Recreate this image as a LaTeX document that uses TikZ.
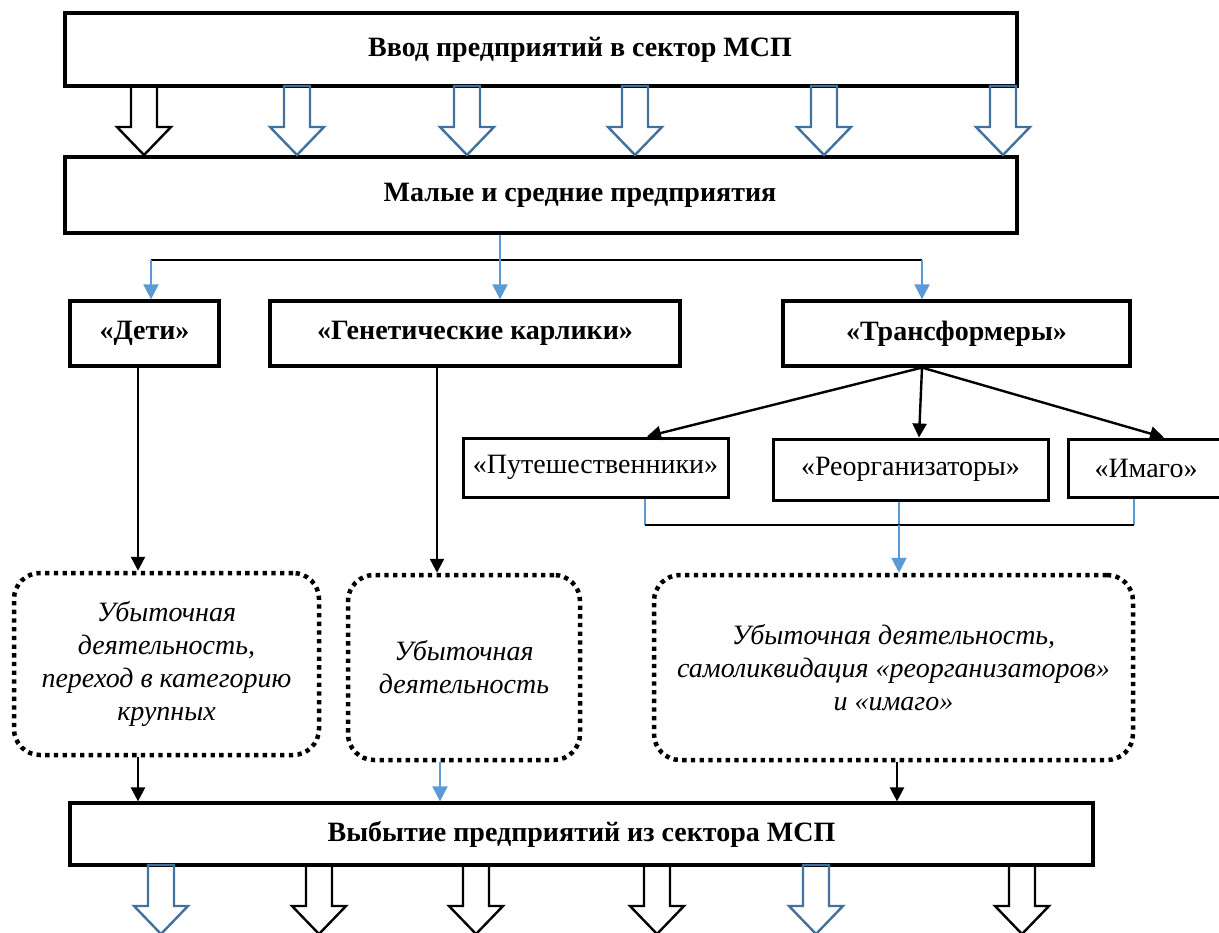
\documentclass[tikz,border=0pt]{standalone}
\usepackage{fontspec}
\setmainfont{Liberation Serif}
\usepackage{xcolor}
\usetikzlibrary{arrows.meta}
\definecolor{ink}{HTML}{000000}
\definecolor{flow}{HTML}{41719C}
\definecolor{link}{HTML}{5B9BD5}
\newcommand{\hollowarrow}[3]{%
  \draw[#3,line width=2.4pt] (#1-13,#2) -- (#1+13,#2) -- (#1+13,#2+41) -- (#1+27,#2+41)
    -- (#1,#2+69) -- (#1-27,#2+41) -- (#1-13,#2+41) -- cycle;}

\begin{document}
\begin{tikzpicture}[x=1pt,y=-1pt,>={Triangle[length=14pt,width=14pt]},
  stage/.style={draw,line width=3.2pt,inner sep=0pt,font=\fontsize{28}{33}\selectfont\bfseries},
  kind/.style={draw,line width=3pt,inner sep=0pt,font=\fontsize{28}{33}\selectfont},
  loss/.style={draw,line width=4.5pt,dash pattern=on 4.3pt off 4.4pt,rounded corners=26pt,
    align=center,inner sep=0pt,font=\fontsize{28}{33}\selectfont\itshape},
  tie/.style={draw=ink,line width=2.4pt},
  cue/.style={draw=link,line width=2pt,-{Triangle[length=15pt,width=15pt]},shorten >=0pt}]
  \useasboundingbox (0,0) rectangle (1219,933);
  \node[stage,minimum width=952pt,minimum height=73pt] (entry) at (541,49.5) {\hspace*{78pt}Ввод предприятий в сектор МСП};
  \node[stage,minimum width=952pt,minimum height=76pt] (smes) at (541,195) {\hspace*{78pt}Малые и средние предприятия};
  \node[stage,minimum width=149pt,minimum height=65pt] (kids) at (144.5,333.5) {«Дети»};
  \node[stage,minimum width=410pt,minimum height=65pt] (dwarfs) at (475,333.5) {«Генетические карлики»};
  \node[stage,minimum width=347pt,minimum height=65pt] (trans) at (956.5,333.5) {«Трансформеры»};
  \node[kind,minimum width=265pt,minimum height=59pt] (trav) at (595.5,467.5) {«Путешественники»};
  \node[kind,minimum width=275pt,minimum height=61pt] (reorg) at (910.5,469.5) {«Реорганизаторы»};
  \node[kind,minimum width=156pt,minimum height=58pt] (imago) at (1146,468) {«Имаго»};
  \node[loss,minimum width=305pt,minimum height=182pt] (loss1) at (166.5,664) {Убыточная\\деятельность,\\переход в категорию\\крупных};
  \node[loss,minimum width=232pt,minimum height=185pt] (loss2) at (464,667.5) {Убыточная\\деятельность};
  \node[loss,minimum width=479pt,minimum height=185pt] (loss3) at (893.5,667.5) {Убыточная деятельность,\\самоликвидация «реорганизаторов»\\и «имаго»};
  \node[stage,minimum width=1023pt,minimum height=62pt] (exit) at (581.5,834) {Выбытие предприятий из сектора МСП};
  \foreach \x/\c in {144/ink,297/flow,467/flow,635/flow,824/flow,1003/flow} {\hollowarrow{\x}{86}{\c}}
  \foreach \x/\c in {161/flow,319/ink,476/ink,657/ink,816/flow,1022/ink} {\hollowarrow{\x}{865}{\c}}
  % split of the small and medium firms
  \coordinate (fork) at (500,260);
  \coordinate (kcol) at (151,260);
  \coordinate (tcol) at (922,260);
  \draw[tie,line width=2pt] (kcol) -- (tcol);
  \draw[cue] (smes.south -| fork) -- (dwarfs.north -| fork);
  \draw[cue] (kcol) -- (kids.north -| kcol);
  \draw[cue] (tcol) -- (trans.north -| tcol);
  \coordinate (tsplit) at (trans.south -| tcol);
  \draw[tie,->] (tsplit) -- (trav.north -| 647,0);
  \draw[tie,->] (tsplit) -- (reorg.north -| 919,0);
  \draw[tie,->] (tsplit) -- (imago.north -| 1164,0);
  \coordinate (jl) at (645,525);
  \coordinate (join) at (899,525);
  \coordinate (jr) at (1134,525);
  \draw[cue,-] (trav.south -| jl) -- (jl);
  \draw[cue,-] (reorg.south -| join) -- (join);
  \draw[cue,-] (imago.south -| jr) -- (jr);
  \draw[tie,line width=2pt] (jl) -- (jr);
  \draw[cue] (join) -- (loss3.north -| join);
  % ways out of the sector
  \draw[tie,->] (kids.south -| 138,0) -- (loss1.north -| 138,0);
  \draw[tie,->] (dwarfs.south -| 437,0) -- (loss2.north -| 437,0);
  \draw[tie,->] (loss1.south -| 138,0) -- (exit.north -| 138,0);
  \draw[cue] (loss2.south -| 440,0) -- (exit.north -| 440,0);
  \draw[tie,->] (loss3.south -| 897,0) -- (exit.north -| 897,0);
\end{tikzpicture}
\end{document}
